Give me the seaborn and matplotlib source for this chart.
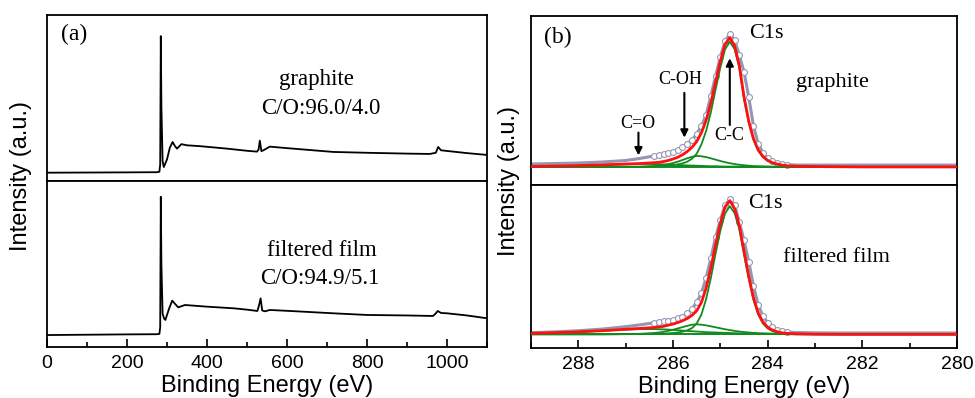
import numpy as np
import pandas as pd
import matplotlib
matplotlib.use("Agg")
import matplotlib.pyplot as plt
import seaborn as sns

# ---------------- data: (a) survey spectra ----------------
E_a_graphite = [0, 100, 200, 275, 281, 283, 284.5, 286, 289, 292, 300, 307, 314, 320, 325, 336, 350,
                382, 450, 500, 525, 529, 532, 536, 541, 557, 600, 716, 800, 900, 957, 972, 978, 985,
                1000, 1050, 1100]
I_a_graphite = [0.050, 0.051, 0.052, 0.053, 0.056, 0.10, 0.873, 0.45, 0.12, 0.084, 0.13, 0.20, 0.235,
                0.21, 0.195, 0.222, 0.215, 0.21, 0.195, 0.182, 0.177, 0.19, 0.243, 0.18, 0.185, 0.207,
                0.198, 0.175, 0.17, 0.165, 0.163, 0.17, 0.205, 0.185, 0.181, 0.168, 0.157]

E_a_film = [0, 100, 200, 275, 281, 283, 284.5, 286, 289, 293, 296, 305, 313, 320, 328, 345, 400, 467,
            500, 526, 530, 534, 538, 545, 557, 600, 716, 800, 900, 965, 971, 977, 985, 1000, 1050, 1100]
I_a_film = [0.072, 0.074, 0.076, 0.077, 0.079, 0.12, 0.905, 0.50, 0.20, 0.17, 0.163, 0.23, 0.279, 0.26,
            0.239, 0.253, 0.243, 0.233, 0.225, 0.217, 0.25, 0.293, 0.22, 0.215, 0.223, 0.218, 0.203,
            0.193, 0.19, 0.187, 0.20, 0.217, 0.205, 0.203, 0.19, 0.173]

# ---------------- data: (b) C1s high-resolution ----------------
E_b = [289.0, 288.5, 288.0, 287.5, 287.0, 286.7, 286.4, 286.3, 286.2, 286.1, 286.0, 285.9, 285.8,
       285.7, 285.6, 285.5, 285.4, 285.3, 285.2, 285.1, 285.0, 284.9, 284.8, 284.7, 284.6, 284.5,
       284.4, 284.3, 284.2, 284.1, 284.0, 283.9, 283.8, 283.7, 283.6, 283.4, 283.0, 282.5, 282.0,
       281.0, 280.0]

# graphite
raw_g = [0.124, 0.127, 0.130, 0.136, 0.145, 0.157, 0.172, 0.178, 0.183, 0.189, 0.198, 0.210, 0.225,
         0.243, 0.266, 0.302, 0.349, 0.414, 0.527, 0.645, 0.757, 0.852, 0.893, 0.858, 0.770, 0.670,
         0.520, 0.350, 0.245, 0.190, 0.158, 0.142, 0.130, 0.124, 0.121, 0.118, 0.118, 0.118, 0.118,
         0.118, 0.118]
fit_g = [0.110, 0.112, 0.115, 0.119, 0.124, 0.127, 0.132, 0.134, 0.139, 0.145, 0.154, 0.164, 0.179,
         0.198, 0.223, 0.257, 0.309, 0.383, 0.485, 0.610, 0.733, 0.833, 0.872, 0.824, 0.710, 0.522,
         0.378, 0.274, 0.208, 0.169, 0.146, 0.132, 0.124, 0.118, 0.114, 0.111, 0.109, 0.108, 0.107,
         0.107, 0.107]
cc_g = [0.107, 0.107, 0.107, 0.107, 0.108, 0.108, 0.110, 0.111, 0.113, 0.115, 0.118, 0.122, 0.128,
        0.138, 0.155, 0.185, 0.240, 0.320, 0.430, 0.565, 0.695, 0.803, 0.848, 0.805, 0.695, 0.510,
        0.370, 0.268, 0.203, 0.165, 0.143, 0.130, 0.122, 0.117, 0.114, 0.111, 0.109, 0.108, 0.107,
        0.107, 0.107]
coh_g = [0.107, 0.107, 0.107, 0.107, 0.107, 0.108, 0.112, 0.114, 0.118, 0.123, 0.130, 0.138, 0.148,
         0.158, 0.167, 0.172, 0.170, 0.165, 0.158, 0.150, 0.142, 0.135, 0.129, 0.124, 0.120, 0.117,
         0.114, 0.112, 0.111, 0.110, 0.109, 0.108, 0.108, 0.108, 0.107, 0.107, 0.107, 0.107, 0.107,
         0.107, 0.107]
co_g = [0.110, 0.112, 0.115, 0.119, 0.123, 0.125, 0.124, 0.123, 0.122, 0.121, 0.120, 0.118, 0.117,
        0.116, 0.115, 0.114, 0.113, 0.112, 0.111, 0.111, 0.110, 0.109, 0.109, 0.109, 0.109, 0.109,
        0.108, 0.108, 0.108, 0.108, 0.108, 0.108, 0.108, 0.107, 0.107, 0.107, 0.107, 0.107, 0.107,
        0.107, 0.107]

# filtered film
raw_f = [0.094, 0.099, 0.106, 0.116, 0.131, 0.142, 0.155, 0.160, 0.164, 0.168, 0.174, 0.182, 0.193,
         0.212, 0.240, 0.280, 0.335, 0.430, 0.550, 0.680, 0.785, 0.875, 0.912, 0.880, 0.775, 0.660,
         0.530, 0.380, 0.265, 0.195, 0.155, 0.128, 0.112, 0.103, 0.098, 0.095, 0.093, 0.092, 0.092,
         0.092, 0.092]
fit_f = [0.090, 0.094, 0.099, 0.106, 0.115, 0.120, 0.126, 0.129, 0.133, 0.140, 0.147, 0.156, 0.167,
         0.181, 0.200, 0.228, 0.279, 0.368, 0.491, 0.634, 0.767, 0.866, 0.904, 0.856, 0.753, 0.594,
         0.440, 0.308, 0.215, 0.159, 0.127, 0.110, 0.100, 0.093, 0.090, 0.087, 0.085, 0.084, 0.084,
         0.084, 0.084]
cc_f = [0.084, 0.084, 0.084, 0.084, 0.085, 0.085, 0.086, 0.087, 0.088, 0.090, 0.092, 0.095, 0.100,
        0.108, 0.122, 0.150, 0.205, 0.300, 0.430, 0.580, 0.720, 0.826, 0.870, 0.828, 0.730, 0.575,
        0.425, 0.295, 0.205, 0.150, 0.120, 0.104, 0.095, 0.090, 0.088, 0.086, 0.085, 0.084, 0.084,
        0.084, 0.084]
coh_f = [0.084, 0.084, 0.084, 0.084, 0.085, 0.087, 0.092, 0.095, 0.099, 0.105, 0.112, 0.120, 0.128,
         0.136, 0.143, 0.145, 0.143, 0.139, 0.133, 0.127, 0.121, 0.115, 0.110, 0.105, 0.101, 0.098,
         0.095, 0.093, 0.091, 0.090, 0.089, 0.088, 0.087, 0.086, 0.085, 0.084, 0.084, 0.084, 0.084,
         0.084, 0.084]
co_f = [0.090, 0.094, 0.099, 0.106, 0.113, 0.116, 0.116, 0.115, 0.114, 0.113, 0.111, 0.109, 0.107,
        0.105, 0.103, 0.101, 0.099, 0.097, 0.096, 0.095, 0.094, 0.093, 0.092, 0.091, 0.090, 0.089,
        0.088, 0.088, 0.087, 0.087, 0.086, 0.086, 0.086, 0.085, 0.085, 0.085, 0.084, 0.084, 0.084,
        0.084, 0.084]

bg_E = [289.0, 280.0]
bg_g = [0.107, 0.106]
bg_f = [0.084, 0.084]

xticks_a = [0, 200, 400, 600, 800, 1000]
xticks_b = [288, 286, 284, 282, 280]

for arr in (raw_g, fit_g, cc_g, coh_g, co_g, raw_f, fit_f, cc_f, coh_f, co_f):
    assert len(arr) == len(E_b), len(arr)
assert len(E_a_graphite) == len(I_a_graphite)
assert len(E_a_film) == len(I_a_film)

# ---------------- style ----------------
sns.set_theme(style="white")
plt.rcParams["font.family"] = ["Liberation Sans", "DejaVu Sans"]
SERIF = ["Liberation Serif", "DejaVu Serif"]

W, H = 975, 398
fig = plt.figure(figsize=(W / 100, H / 100), dpi=100)
fig.patch.set_facecolor("white")


def box(l, t, r, b):
    return [l / W, 1 - b / H, (r - l) / W, (b - t) / H]


ax_a1 = fig.add_axes(box(47, 15, 487, 181))
ax_a2 = fig.add_axes(box(47, 181, 487, 347))
ax_b1 = fig.add_axes(box(531, 16, 957, 185))
ax_b2 = fig.add_axes(box(531, 185, 957, 348))

for ax in (ax_a1, ax_a2, ax_b1, ax_b2):
    ax.set_facecolor("white")
    for s in ax.spines.values():
        s.set_color("black")
        s.set_linewidth(1.3)
    ax.set_ylim(0, 1)
    ax.set_yticks([])
    ax.set_ylabel("")
    ax.grid(False)

# (a) survey
sns.lineplot(x=E_a_graphite, y=I_a_graphite, ax=ax_a1, color="black", lw=1.3,
             estimator=None, sort=False)
sns.lineplot(x=E_a_film, y=I_a_film, ax=ax_a2, color="black", lw=1.3,
             estimator=None, sort=False)
for ax in (ax_a1, ax_a2):
    ax.set_xlim(0, 1100)

ax_a1.set_xticks([])
ax_a2.set_xticks(xticks_a)
ax_a2.set_xticks([100, 300, 500, 700, 900, 1100], minor=True)

# (b) C1s
RAW_C = "#9497b3"
GREEN = "#118a1f"
RED = "#ff1010"
dense = [i for i, e in enumerate(E_b) if 283.6 <= e <= 286.4]


def draw_c1s(ax, raw, fit, cc, coh, co, bg):
    sns.lineplot(x=E_b, y=raw, ax=ax, color=RAW_C, lw=2.2, estimator=None, sort=False, zorder=2)
    sns.scatterplot(x=[E_b[i] for i in dense], y=[raw[i] for i in dense], ax=ax, marker="o", s=18,
                    facecolor="white", edgecolor=RAW_C, linewidth=0.8, zorder=2)
    sns.lineplot(x=bg_E, y=bg, ax=ax, color=GREEN, lw=1.4, estimator=None, sort=False, zorder=3)
    for comp in (co, coh, cc):
        sns.lineplot(x=E_b, y=comp, ax=ax, color=GREEN, lw=1.3, estimator=None, sort=False, zorder=3)
    sns.lineplot(x=E_b, y=fit, ax=ax, color=RED, lw=2.0, estimator=None, sort=False, zorder=4)
    ax.set_xlim(289, 280)


draw_c1s(ax_b1, raw_g, fit_g, cc_g, coh_g, co_g, bg_g)
draw_c1s(ax_b2, raw_f, fit_f, cc_f, coh_f, co_f, bg_f)
ax_b1.set_xticks([])
ax_b2.set_xticks(xticks_b)
ax_b2.set_xticks([289, 287, 285, 283, 281], minor=True)

for ax in (ax_a2, ax_b2):
    ax.tick_params(axis="x", which="both", direction="in", bottom=True, top=False,
                   colors="black", width=1.2, labelsize=14, pad=6)
    ax.tick_params(axis="x", which="major", length=6)
    ax.tick_params(axis="x", which="minor", length=3.5)
    ax.set_xlabel("Binding Energy (eV)", fontsize=17, labelpad=2, color="black")
ax_a1.set_xlabel("")
ax_b1.set_xlabel("")

# arrows in the graphite C1s panel
arr = dict(arrowstyle="-|>", color="black", lw=1.5, mutation_scale=11, shrinkA=0, shrinkB=0)
ax_b1.annotate("", xy=(285.76, 0.28), xytext=(285.76, 0.545), arrowprops=arr)
ax_b1.annotate("", xy=(286.73, 0.175), xytext=(286.73, 0.31), arrowprops=arr)
ax_b1.annotate("", xy=(284.8, 0.75), xytext=(284.8, 0.355), arrowprops=arr)


# ---------------- text ----------------
def ftext(px, py, s, size, family=None, **kw):
    kw.setdefault("ha", "center")
    kw.setdefault("va", "center")
    fig.text(px / W, 1 - py / H, s, fontsize=size, color="black",
             family=family if family else plt.rcParams["font.family"], **kw)


ftext(21, 176, "Intensity (a.u.)", 17, rotation=90)
ftext(509, 181, "Intensity (a.u.)", 17, rotation=90)

ftext(74, 34, "(a)", 17, SERIF)
ftext(316, 79, "graphite", 16.5, SERIF)
ftext(321, 108, "C/O:96.0/4.0", 16.5, SERIF)
ftext(322, 250, "filtered film", 16.5, SERIF)
ftext(320, 279, "C/O:94.9/5.1", 16.5, SERIF)

ftext(558, 37, "(b)", 17, SERIF)
ftext(766, 33, "C1s", 16, SERIF)
ftext(832, 82, "graphite", 16, SERIF)
ftext(680, 79, "C-OH", 13, SERIF)
ftext(638, 123, "C=O", 13, SERIF)
ftext(729, 135, "C-C", 13, SERIF)
ftext(765, 204, "C1s", 16, SERIF)
ftext(836, 258, "filtered film", 16, SERIF)

fig.savefig("out.png", dpi=100, facecolor="white")
